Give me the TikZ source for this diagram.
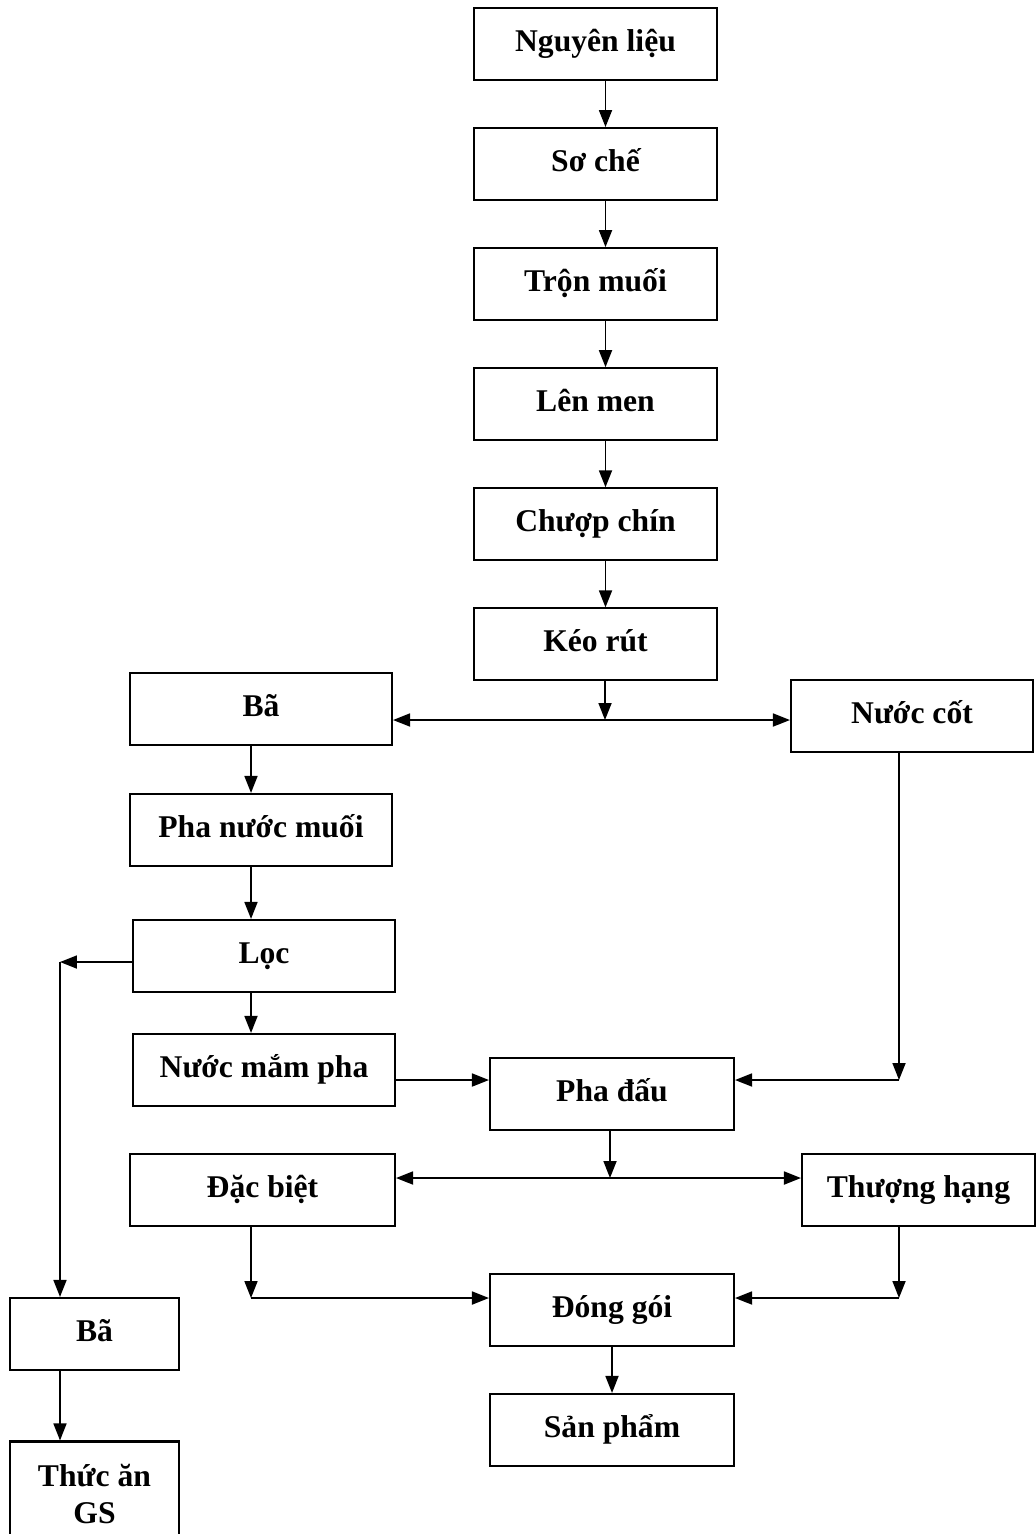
\documentclass[tikz,border=0pt]{standalone}
\usepackage{fontspec}
\setmainfont{Liberation Serif}
\usetikzlibrary{arrows.meta,positioning}

\begin{document}
\begin{tikzpicture}[x=0.02cm, y=-0.02cm, node distance=0.92cm,
  >={Triangle[length=0.34cm,width=0.26cm]},
  sbox/.style={draw,line width=1.2pt,minimum width=4.86cm,
               minimum height=1.44cm,inner sep=2pt,
               text height=0.5cm,text depth=0.2cm,
               font=\fontsize{18}{21}\selectfont\bfseries,align=center},
  flow/.style={->,line width=1pt}]
  \useasboundingbox (0,0) rectangle (1035,1534);
  % main chain
  \node[sbox] (nl) at (595.5,44) {Nguyên liệu};
  \node[sbox,below=of nl] (sc) {Sơ chế};
  \node[sbox,below=of sc] (tm) {Trộn muối};
  \node[sbox,below=of tm] (lm) {Lên men};
  \node[sbox,below=of lm] (cc) {Chượp chín};
  \node[sbox,below=of cc] (kr) {Kéo rút};
  % branches
  \node[sbox,minimum width=5.24cm] (ba1) at (261,709) {Bã};
  \node[sbox,minimum width=4.84cm] (nc)  at (912,716) {Nước cốt};
  \node[sbox,minimum width=5.24cm] (pnm) at (261,830) {Pha nước muối};
  \node[sbox,minimum width=5.24cm] (loc) at (264,956) {Lọc};
  \node[sbox,minimum width=5.24cm] (nmp) at (264,1070) {Nước mắm pha};
  \node[sbox,minimum width=4.88cm] (pd)  at (612,1094) {Pha đấu};
  \node[sbox,minimum width=5.30cm] (db)  at (262.5,1190) {Đặc biệt};
  \node[sbox,minimum width=4.66cm] (th)  at (918.5,1190) {Thượng hạng};
  \node[sbox,minimum width=4.88cm] (dg)  at (612,1310) {Đóng gói};
  \node[sbox,minimum width=4.88cm] (sp)  at (612,1430) {Sản phẩm};
  \node[sbox,minimum width=3.38cm] (ba2) at (94.5,1334) {Bã};
  \node[sbox,minimum width=3.38cm,minimum height=2.1cm,
        text height={},text depth={}] (ta) at (94.5,1494) {Thức ăn\\GS};
  % junctions
  \coordinate (krs) at (605,720);
  \coordinate (lcn) at (60,962);
  \coordinate (pdin) at (899,1080);
  \coordinate (pds) at (610,1178);
  \coordinate (dgl) at (251,1298);
  \coordinate (dgr) at (899,1298);
  % connectors
  \foreach \a/\b in {nl/sc,sc/tm,tm/lm,lm/cc,cc/kr}
    \draw[flow] ([xshift=0.2cm]\a.south) -- ([xshift=0.2cm]\b.north);
  \draw[flow] (kr.south -| krs) -- (krs);
  \draw[flow,<->] (krs -| ba1.east) -- (krs -| nc.west);
  \draw[flow] ([xshift=-0.2cm]ba1.south) -- ([xshift=-0.2cm]ba1.south |- pnm.north);
  \draw[flow] ([xshift=-0.2cm]pnm.south) -- ([xshift=-0.2cm]pnm.south |- loc.north);
  \draw[flow] ([xshift=-0.26cm]loc.south) -- ([xshift=-0.26cm]nmp.north);
  \draw[flow] (loc.west |- lcn) -- (lcn);
  \draw[flow] (lcn) -- (lcn |- ba2.north);
  \draw[flow] (ba2.south -| lcn) -- (ta.north -| lcn);
  \draw[flow] (nmp.east |- pdin) -- (pd.west |- pdin);
  \draw[flow] (nc.south -| pdin) -- (pdin);
  \draw[flow] (pdin) -- (pd.east |- pdin);
  \draw[flow] (pd.south -| pds) -- (pds);
  \draw[flow,<->] (pds -| db.east) -- (pds -| th.west);
  \draw[flow] (db.south -| dgl) -- (dgl);
  \draw[flow] (dgl) -- (dg.west |- dgl);
  \draw[flow] (th.south -| dgr) -- (dgr);
  \draw[flow] (dgr) -- (dg.east |- dgr);
  \draw[flow] (dg) -- (sp);
\end{tikzpicture}
\end{document}
